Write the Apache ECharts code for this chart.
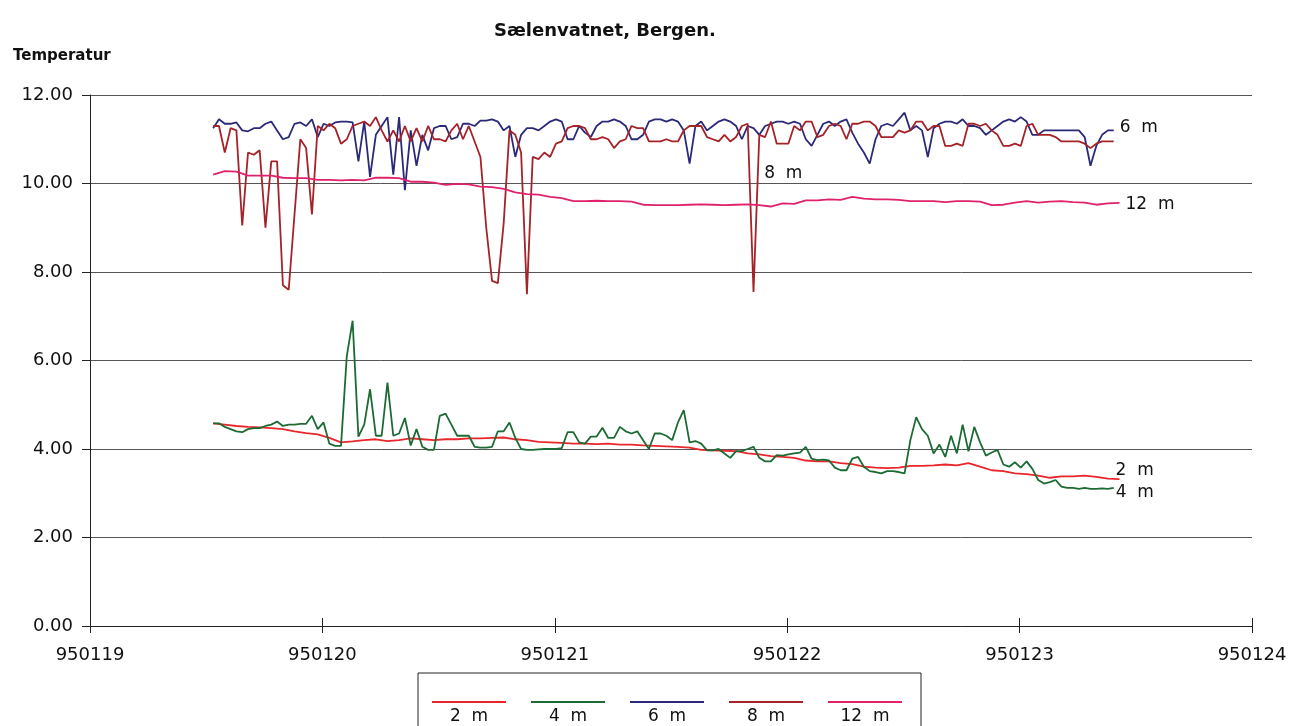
<!DOCTYPE html>
<html>
<head>
<meta charset="utf-8">
<script src="https://cdn.jsdelivr.net/npm/echarts@6/dist/echarts.min.js"></script>
<style>
html,body{margin:0;padding:0;background:#fff;}
#chart{width:1293px;height:726px;}
</style>
</head>
<body>
<div id="chart"></div>
<script>
// ---- data ----
const seriesNames = ['2 m', '4 m', '6 m', '8 m', '12 m'];
const dayTicks = [950119, 950120, 950121, 950122, 950123, 950124];
const yTicks = [0, 2, 4, 6, 8, 10, 12];
const START = 950119.53;     // first sample time (date code + fraction of day)
const STEP_FINE = 0.025;     // sampling step of the 4 m, 6 m, 8 m records (days)
const STEP_COARSE = 0.05;    // sampling step of the 2 m, 12 m records (days)

const v2m = [4.58,4.55,4.52,4.5,4.49,4.47,4.45,4.4,4.36,4.33,4.25,4.15,4.17,4.2,4.22,4.18,4.2,4.24,4.22,4.2,
4.22,4.22,4.24,4.24,4.25,4.26,4.22,4.2,4.16,4.15,4.14,4.12,4.12,4.11,4.12,4.1,4.1,4.08,4.07,4.06,
4.05,4.03,3.98,3.97,3.96,3.95,3.9,3.88,3.84,3.82,3.8,3.74,3.72,3.72,3.68,3.66,3.6,3.58,3.57,3.58,
3.62,3.62,3.63,3.65,3.63,3.68,3.6,3.52,3.5,3.45,3.43,3.4,3.35,3.38,3.38,3.4,3.37,3.33,3.32];

const v4m = [4.58,4.58,4.5,4.45,4.4,4.38,4.45,4.47,4.47,4.52,4.55,4.62,4.52,4.55,4.55,4.57,4.57,4.75,4.45,4.6,
4.12,4.07,4.07,6.1,6.9,4.28,4.55,5.35,4.3,4.3,5.5,4.3,4.35,4.7,4.08,4.45,4.05,3.98,3.98,4.75,
4.8,4.55,4.3,4.3,4.3,4.05,4.03,4.03,4.05,4.4,4.4,4.6,4.25,4.0,3.98,3.98,3.99,4.0,4.0,4.0,
4.02,4.38,4.38,4.15,4.12,4.28,4.28,4.48,4.25,4.25,4.5,4.4,4.35,4.4,4.2,4.0,4.35,4.35,4.3,4.2,
4.6,4.88,4.15,4.18,4.12,3.97,3.97,4.0,3.9,3.8,3.95,3.95,4.0,4.05,3.8,3.72,3.72,3.86,3.85,3.88,
3.9,3.92,4.05,3.78,3.75,3.76,3.74,3.58,3.52,3.52,3.78,3.82,3.6,3.5,3.48,3.45,3.5,3.5,3.48,3.45,
4.2,4.72,4.45,4.3,3.9,4.1,3.82,4.3,3.9,4.55,3.95,4.5,4.15,3.85,3.92,3.98,3.65,3.6,3.7,3.58,
3.72,3.55,3.3,3.22,3.25,3.3,3.15,3.12,3.12,3.1,3.12,3.1,3.1,3.11,3.1,3.12];

const v6m = [11.25,11.45,11.35,11.35,11.38,11.2,11.18,11.25,11.25,11.35,11.4,11.2,11.0,11.05,11.35,11.38,11.3,11.45,11.05,11.35,
11.3,11.38,11.4,11.4,11.38,10.5,11.4,10.15,11.1,11.3,11.5,10.2,11.5,9.85,11.2,10.4,11.1,10.75,11.25,11.3,
11.3,11.0,11.05,11.35,11.35,11.3,11.42,11.42,11.45,11.4,11.2,11.3,10.6,11.1,11.25,11.25,11.2,11.3,11.4,11.45,
11.4,11.0,11.0,11.3,11.15,11.05,11.3,11.4,11.4,11.45,11.4,11.3,11.0,11.0,11.1,11.4,11.45,11.45,11.4,11.45,
11.4,11.2,10.45,11.3,11.4,11.2,11.3,11.4,11.45,11.4,11.3,11.0,11.3,11.25,11.1,11.3,11.35,11.4,11.4,11.35,
11.4,11.35,11.0,10.85,11.1,11.35,11.4,11.3,11.4,11.45,11.15,10.9,10.7,10.45,11.0,11.3,11.35,11.3,11.45,11.6,
11.2,11.3,11.2,10.6,11.25,11.35,11.4,11.4,11.35,11.45,11.3,11.3,11.25,11.1,11.2,11.3,11.4,11.45,11.4,11.5,
11.4,11.1,11.1,11.2,11.2,11.2,11.2,11.2,11.2,11.2,11.05,10.4,10.85,11.1,11.2,11.2];

const v8m = [11.3,11.3,10.7,11.25,11.2,9.05,10.7,10.65,10.75,9.0,10.5,10.5,7.7,7.6,9.3,11.0,10.8,9.3,11.3,11.2,
11.35,11.25,10.9,11.0,11.3,11.35,11.4,11.3,11.5,11.2,10.95,11.2,10.95,11.3,10.95,11.25,10.95,11.3,11.0,11.0,
10.95,11.2,11.35,11.0,11.3,10.95,10.6,9.0,7.8,7.75,9.1,11.2,11.1,10.7,7.5,10.6,10.55,10.7,10.6,10.9,
10.95,11.25,11.3,11.3,11.25,11.0,11.0,11.05,11.0,10.8,10.95,11.0,11.3,11.25,11.25,10.95,10.95,10.95,11.0,10.95,
10.95,11.2,11.3,11.3,11.3,11.05,11.0,10.95,11.1,10.95,11.05,11.3,11.35,7.55,11.1,11.05,11.4,10.9,10.9,10.9,
11.3,11.2,11.4,11.4,11.05,11.1,11.3,11.35,11.3,11.0,11.35,11.35,11.4,11.4,11.3,11.05,11.05,11.05,11.2,11.15,
11.2,11.4,11.4,11.2,11.3,11.3,10.85,10.85,10.9,10.85,11.35,11.35,11.3,11.35,11.2,11.1,10.85,10.85,10.9,10.85,
11.3,11.35,11.1,11.1,11.1,11.05,10.95,10.95,10.95,10.95,10.9,10.8,10.9,10.95,10.95,10.95];

const v12m = [10.2,10.28,10.27,10.18,10.18,10.18,10.13,10.12,10.12,10.08,10.08,10.07,10.08,10.07,10.13,10.13,10.12,10.04,10.04,10.02,
9.97,9.99,9.98,9.93,9.92,9.88,9.8,9.76,9.75,9.7,9.67,9.6,9.6,9.61,9.6,9.6,9.59,9.52,9.51,9.51,
9.51,9.52,9.53,9.52,9.51,9.52,9.53,9.51,9.48,9.55,9.54,9.62,9.62,9.64,9.63,9.7,9.66,9.64,9.64,9.63,
9.6,9.6,9.6,9.58,9.6,9.6,9.59,9.51,9.52,9.57,9.6,9.57,9.59,9.6,9.58,9.57,9.52,9.55,9.56];

const colors = ['#E8262B', '#1D6B34', '#2B2A78', '#A52228', '#E0226C'];
const label8Index = 94;   // sample beside which the "8 m" tag is written

// ---- build ----
function pairs(vals, step) { return vals.map((v, i) => [START + i * step, v]); }
const d2 = pairs(v2m, STEP_COARSE);
const d4 = pairs(v4m, STEP_FINE);
const d6 = pairs(v6m, STEP_FINE);
const d8 = pairs(v8m, STEP_FINE);
const d12 = pairs(v12m, STEP_COARSE);

const labelFont = {color: '#111', fontSize: 17, fontFamily: 'DejaVu Sans'};
function lineSeries(name, data, color, endText, endOffset) {
  const s = {
    name: name, type: 'line', data: data, showSymbol: false, symbol: 'none',
    lineStyle: {color: color, width: 1.8}, itemStyle: {color: color},
    animation: false, z: 3
  };
  if (endText) {
    s.endLabel = Object.assign({show: true, formatter: endText, distance: 4, offset: endOffset}, labelFont);
  }
  return s;
}

const series = [
  lineSeries('2 m', d2, colors[0], '2  m', [-8, -9]),
  lineSeries('4 m', d4, colors[1], '4  m', [-2, 5]),
  lineSeries('6 m', d6, colors[2], '6  m', [2, -3]),
  lineSeries('8 m', d8, colors[3], null, null),
  lineSeries('12 m', d12, colors[4], '12  m', [2, 2])
];
series[3].markPoint = {
  symbol: 'circle', symbolSize: 0, animation: false,
  label: Object.assign({show: true, formatter: '8  m', offset: [24, 39]}, labelFont),
  data: [{coord: d8[label8Index]}]
};

const rich = {t: {width: 74, align: 'center', lineHeight: 28, fontSize: 17, fontFamily: 'DejaVu Sans', color: '#111'}};
seriesNames.forEach((n, i) => { rich['l' + i] = {width: 74, height: 2, lineHeight: 2, backgroundColor: colors[i]}; });

const axisFont = {fontSize: 18, color: '#111', fontFamily: 'DejaVu Sans'};

const chart = echarts.init(document.getElementById('chart'), null, {renderer: 'canvas'});
chart.setOption({
  backgroundColor: '#fff',
  animation: false,
  title: [
    {text: 'Sælenvatnet, Bergen.', left: 489, top: 17,
     textStyle: {fontSize: 18, fontWeight: 'bold', color: '#111', fontFamily: 'DejaVu Sans'}},
    {text: 'Temperatur', left: 8, top: 44,
     textStyle: {fontSize: 15, fontWeight: 'bold', color: '#111', fontFamily: 'DejaVu Sans'}}
  ],
  grid: {left: 90, right: 41, top: 95, bottom: 100, containLabel: false},
  xAxis: [{
    type: 'value', min: dayTicks[0], max: dayTicks[dayTicks.length - 1], interval: 1,
    axisLine: {lineStyle: {color: '#222', width: 1}},
    axisTick: {show: true, length: 7, lineStyle: {color: '#222'}},
    splitLine: {show: false},
    axisLabel: Object.assign({margin: 20, formatter: v => String(Math.round(v))}, axisFont)
  }, {
    type: 'value', position: 'bottom', min: dayTicks[0], max: dayTicks[dayTicks.length - 1], interval: 1,
    axisLine: {show: false},
    axisTick: {show: true, inside: true, length: 8, lineStyle: {color: '#222'}},
    axisLabel: {show: false}, splitLine: {show: false}
  }],
  yAxis: {
    type: 'value', min: yTicks[0], max: yTicks[yTicks.length - 1], interval: 2,
    axisLine: {show: true, lineStyle: {color: '#222', width: 1}},
    axisTick: {show: true, length: 8, lineStyle: {color: '#222'}},
    splitLine: {show: true, lineStyle: {color: '#555', width: 1}},
    axisLabel: Object.assign({margin: 17, formatter: v => v.toFixed(2)}, axisFont)
  },
  legend: {
    data: seriesNames, left: 418, top: 673, orient: 'horizontal',
    icon: 'none', itemWidth: 0, itemHeight: 2, itemGap: 20,
    padding: [23, 19, 20, 9],
    borderColor: '#222', borderWidth: 1, backgroundColor: '#fff',
    selectedMode: false,
    formatter: name => '{l' + seriesNames.indexOf(name) + '|}\n{t|' + name.replace(' ', '  ') + '}',
    textStyle: {rich: rich}
  },
  series: series
});
</script>
</body>
</html>
